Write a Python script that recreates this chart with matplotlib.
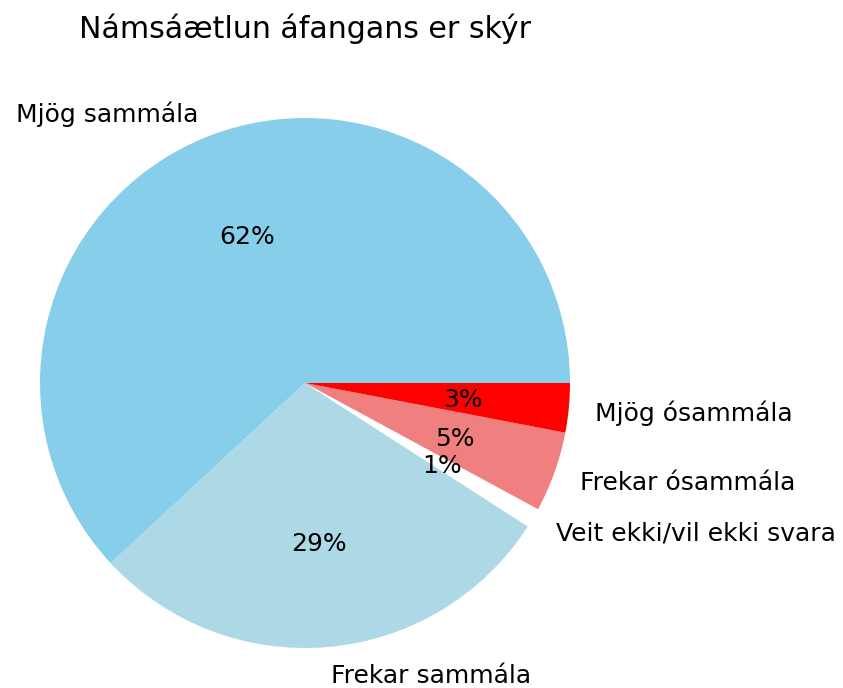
import matplotlib
matplotlib.use("Agg")
import matplotlib.pyplot as plt

# svör við spurningunni (hlutfall %)
labels = ["Mjög sammála", "Frekar sammála", "Veit ekki/vil ekki svara",
          "Frekar ósammála", "Mjög ósammála"]
values = [61.9, 29.0, 1.2, 4.9, 3.0]
colors = ["skyblue", "lightblue", "white", "lightcoral", "red"]
title = "Námsáætlun áfangans er skýr"

W, H, DPI = 843, 688, 180
fig = plt.figure(figsize=(W / DPI, H / DPI), dpi=DPI)
ax = fig.add_axes([0, 0, 1, 1])

wedges, texts, pcts = ax.pie(values, labels=labels, colors=colors, autopct="%1.0f%%")

# pie centre at (305, 383) px, radius 265 px
cx, cy, r = 305, 383, 265
ax.set_aspect("auto")
ax.set_xlim(-cx / r, (W - cx) / r)
ax.set_ylim(-(H - cy) / r, cy / r)
ax.axis("off")

# texts sit a touch lower in the original
for t in list(texts) + list(pcts):
    x, y = t.get_position()
    t.set_position((x, y - 2.5 / r))

fig.text(cx / W, 1 - 37.5 / H, title, ha="center", va="baseline", fontsize=12)

fig.savefig("out.png", dpi=DPI)
